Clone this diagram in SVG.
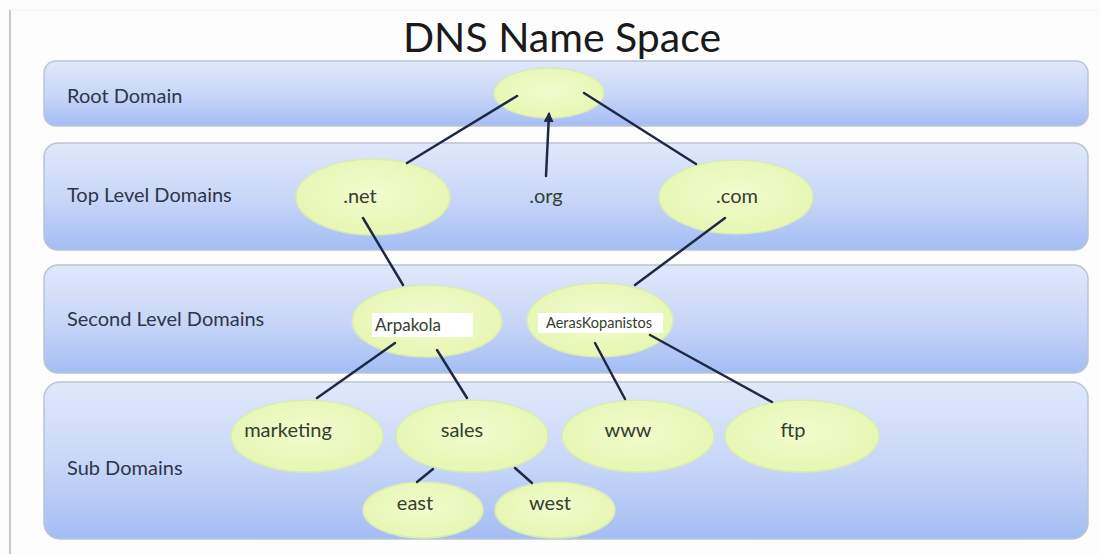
<svg xmlns="http://www.w3.org/2000/svg" width="1100" height="554" viewBox="0 0 1100 554">
<defs>
<linearGradient id="band" x1="0" y1="0" x2="0" y2="1">
<stop offset="0" stop-color="#e0e8fb"/>
<stop offset="0.55" stop-color="#c6d5f8"/>
<stop offset="1" stop-color="#a3bdf3"/>
</linearGradient>
<radialGradient id="node" cx="0.5" cy="0.45" r="0.6">
<stop offset="0" stop-color="#f2fbcf"/>
<stop offset="1" stop-color="#e5f6b0"/>
</radialGradient>
<marker id="arr" viewBox="0 0 10 10" refX="8" refY="5" markerWidth="4" markerHeight="4" orient="auto">
<path d="M0,0 L10,5 L0,10 z" fill="#1e2a45"/>
</marker>
</defs>
<style>
.band{fill:url(#band);stroke:#bcc3d2;stroke-width:1.5}
.lbl{font-family:Lato,"Open Sans",sans-serif;font-size:20px;fill:#2d3648}
.node{fill:url(#node);stroke:#d9eab6;stroke-width:1.5}
.nt{font-family:Lato,"Open Sans",sans-serif;font-size:20px;fill:#34402e;text-anchor:middle}
.conn line{stroke:#1e2a45;stroke-width:2.5;stroke-linecap:round}
.title{font-family:Lato,"Open Sans",sans-serif;font-size:41px;fill:#1a1a1a;text-anchor:middle}
</style>
<rect width="1100" height="554" fill="#fdfdfd"/>
<line x1="10" y1="10" x2="10" y2="554" stroke="#c9c9c4" stroke-width="2"/>
<line x1="11" y1="10" x2="1100" y2="10" stroke="#eef0ee" stroke-width="1"/>
<text class="title" x="562" y="52">DNS Name Space</text>

<g id="band-root"><rect class="band" x="44" y="61" width="1044" height="65" rx="12"/><text class="lbl" x="67" y="103">Root Domain</text></g>
<g id="band-tld"><rect class="band" x="44" y="143" width="1044" height="107" rx="14"/><text class="lbl" x="67" y="202">Top Level Domains</text></g>
<g id="band-sld"><rect class="band" x="44" y="265" width="1044" height="108" rx="14"/><text class="lbl" x="67" y="326">Second Level Domains</text></g>
<g id="band-sub"><rect class="band" x="44" y="382" width="1044" height="157" rx="16"/><text class="lbl" x="67" y="475">Sub Domains</text></g>

<g id="root"><ellipse class="node" cx="549" cy="93" rx="55" ry="25"/></g>
<g id="net"><ellipse class="node" cx="373" cy="197" rx="77" ry="38"/><text class="nt" x="360" y="203">.net</text></g>
<g id="org"><text class="nt" x="546" y="203">.org</text></g>
<g id="com"><ellipse class="node" cx="736" cy="197" rx="77" ry="37"/><text class="nt" x="737" y="203">.com</text></g>
<g id="arpakola"><ellipse class="node" cx="427" cy="321" rx="75" ry="36"/><rect x="372" y="313" width="101" height="24" fill="#ffffff"/><text class="nt" x="408" y="331" style="font-size:17px">Arpakola</text></g>
<g id="aeras"><ellipse class="node" cx="600" cy="320" rx="73" ry="37"/><rect x="538" y="313" width="125" height="20" fill="#ffffff"/><text class="nt" x="599" y="328" style="font-size:14.5px">AerasKopanistos</text></g>
<g id="marketing"><ellipse class="node" cx="307" cy="436" rx="76" ry="36"/><text class="nt" x="288" y="437">marketing</text></g>
<g id="sales"><ellipse class="node" cx="472" cy="436" rx="76" ry="36"/><text class="nt" x="462" y="437">sales</text></g>
<g id="www"><ellipse class="node" cx="638" cy="436" rx="76" ry="36"/><text class="nt" x="628" y="437">www</text></g>
<g id="ftp"><ellipse class="node" cx="802" cy="436" rx="77" ry="36"/><text class="nt" x="793" y="437">ftp</text></g>
<g id="east"><ellipse class="node" cx="423" cy="510" rx="60" ry="28"/><text class="nt" x="415" y="510">east</text></g>
<g id="west"><ellipse class="node" cx="555" cy="510" rx="60" ry="28"/><text class="nt" x="550" y="510">west</text></g>

<g id="connectors" class="conn">
<line x1="517" y1="96" x2="407" y2="163"/>
<line x1="546" y1="176" x2="549" y2="114" marker-end="url(#arr)"/>
<line x1="584" y1="93" x2="696" y2="164"/>
<line x1="363" y1="218" x2="403" y2="285"/>
<line x1="725" y1="218" x2="635" y2="285"/>
<line x1="395" y1="343" x2="317" y2="398"/>
<line x1="437" y1="350" x2="467" y2="398"/>
<line x1="595" y1="343" x2="625" y2="399"/>
<line x1="650" y1="335" x2="772" y2="402"/>
<line x1="433" y1="469" x2="417" y2="482"/>
<line x1="515" y1="468" x2="532" y2="483"/>
</g>
</svg>
